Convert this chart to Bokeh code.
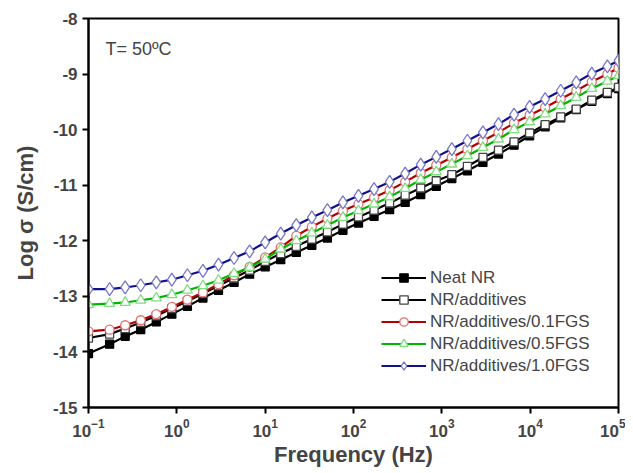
from bokeh.plotting import figure
from bokeh.models import Range1d, FixedTicker, Legend, LegendItem, Label, PrintfTickFormatter
from bokeh.embed import file_html
from bokeh.resources import INLINE

# Frequencies (Hz)
freq = [0.1, 0.1734, 0.2601, 0.3902, 0.5853, 0.8779, 1.317, 1.975, 2.963, 4.444,
        6.667, 10, 15, 22.5, 33.75, 50.63, 75.94, 113.9, 170.9, 256.3,
        384.4, 576.7, 865.0, 1297.5, 1946.2, 2919.3, 4378.9, 6568.4, 9852.6, 14778.9,
        22168.4, 33252.6, 49878.9, 74818.4, 100000]

neat_nr = [-14.03, -13.86, -13.72, -13.60, -13.46, -13.32, -13.18, -13.03, -12.89, -12.75,
           -12.60, -12.47, -12.34, -12.21, -12.08, -11.95, -11.81, -11.68, -11.56, -11.44,
           -11.31, -11.17, -11.02, -10.88, -10.74, -10.59, -10.44, -10.28, -10.11, -9.95,
           -9.79, -9.64, -9.49, -9.35, -9.26]

nr_additives = [-13.75, -13.68, -13.58, -13.47, -13.35, -13.22, -13.09, -12.95, -12.81, -12.67,
                -12.53, -12.37, -12.23, -12.10, -11.97, -11.84, -11.70, -11.57, -11.45, -11.32,
                -11.18, -11.05, -10.92, -10.81, -10.66, -10.50, -10.37, -10.22, -10.06, -9.91,
                -9.77, -9.63, -9.47, -9.33, -9.24]

fgs_01 = [-13.63, -13.60, -13.52, -13.43, -13.32, -13.19, -13.06, -12.93, -12.78, -12.62,
          -12.47, -12.30, -12.12, -11.91, -11.75, -11.60, -11.46, -11.34, -11.22, -11.09,
          -10.94, -10.78, -10.64, -10.50, -10.35, -10.20, -10.05, -9.88, -9.74, -9.60,
          -9.45, -9.30, -9.14, -9.00, -8.89]

fgs_05 = [-13.15, -13.13, -13.11, -13.07, -13.03, -12.97, -12.89, -12.81, -12.71, -12.59,
          -12.48, -12.33, -12.15, -12.00, -11.86, -11.72, -11.58, -11.46, -11.34, -11.21,
          -11.06, -10.90, -10.76, -10.62, -10.47, -10.32, -10.17, -10.00, -9.86, -9.72,
          -9.57, -9.42, -9.26, -9.13, -9.03]

fgs_10 = [-12.87, -12.87, -12.84, -12.80, -12.75, -12.70, -12.62, -12.54, -12.43, -12.31,
          -12.19, -12.03, -11.87, -11.72, -11.58, -11.45, -11.31, -11.19, -11.07, -10.94,
          -10.79, -10.63, -10.49, -10.35, -10.20, -10.05, -9.90, -9.73, -9.59, -9.45,
          -9.30, -9.15, -8.99, -8.86, -8.76]

labels = ["Neat NR", "NR/additives", "NR/additives/0.1FGS", "NR/additives/0.5FGS", "NR/additives/1.0FGS"]
x_ticks = [0.1, 1, 10, 100, 1000, 10000, 100000]
y_ticks = [-15, -14, -13, -12, -11, -10, -9, -8]

FONT = "Liberation Sans"

p = figure(width=625, height=469, x_axis_type="log",
           x_range=Range1d(0.1, 1e5), y_range=Range1d(-15, -8),
           output_backend="svg", toolbar_location=None,
           min_border_left=88, min_border_right=7, min_border_top=18, min_border_bottom=62)

p.grid.visible = False
p.outline_line_color = "black"
p.outline_line_width = 2
p.background_fill_color = "white"
p.border_fill_color = "white"

styles = [
    dict(line="black", marker="square", mline="black", mfill="black", size=8),
    dict(line="black", marker="square", mline="#444444", mfill="white", size=8),
    dict(line="#b00000", marker="circle", mline="#e07070", mfill="white", size=9),
    dict(line="#00b400", marker="triangle", mline="#80dd80", mfill="white", size=10),
    dict(line="#10108a", marker="diamond", mline="#7878c8", mfill="white", size=13),
]
series = [neat_nr, nr_additives, fgs_01, fgs_05, fgs_10]

items = []
for lab, ys, st in zip(labels, series, styles):
    l = p.line(freq, ys, line_color=st["line"], line_width=2.2)
    s = p.scatter(freq, ys, marker=st["marker"], size=st["size"],
                  line_color=st["mline"], fill_color=st["mfill"], line_width=1.3)
    items.append(LegendItem(label=lab, renderers=[l, s]))

legend = Legend(items=items, location=(293, 31), border_line_color=None,
                background_fill_alpha=0, padding=0, margin=0, spacing=1,
                glyph_width=45, glyph_height=21, label_standoff=4,
                label_text_font_size="17px", label_text_font=FONT,
                label_height=21)
p.add_layout(legend, "center")

p.xaxis.ticker = FixedTicker(ticks=x_ticks)
p.yaxis.ticker = FixedTicker(ticks=y_ticks)
p.yaxis.formatter = PrintfTickFormatter(format="%d")
for ax in (p.xaxis, p.yaxis):
    ax.axis_line_width = 2
    ax.major_tick_line_width = 2
    ax.major_tick_in = 0
    ax.major_tick_out = 6
    ax.minor_tick_line_color = None
    ax.major_label_text_font = FONT
    ax.major_label_text_font_style = "bold"
    ax.major_label_text_font_size = "17px"
    ax.axis_label_text_font = FONT
    ax.axis_label_text_font_style = "bold"
    ax.axis_label_text_font_size = "22px"

p.xaxis.major_label_standoff = 5
p.xaxis.axis_label = "Frequency (Hz)"
p.yaxis.axis_label = "Log σ (S/cm)"
p.xaxis.axis_label_standoff = 2
p.yaxis.axis_label_standoff = 12

p.add_layout(Label(x=17, y=359, x_units="screen", y_units="screen", text="T= 50ºC",
                   text_font=FONT, text_font_size="18px", text_baseline="middle"))

open("out.html", "w").write(file_html(p, INLINE))
